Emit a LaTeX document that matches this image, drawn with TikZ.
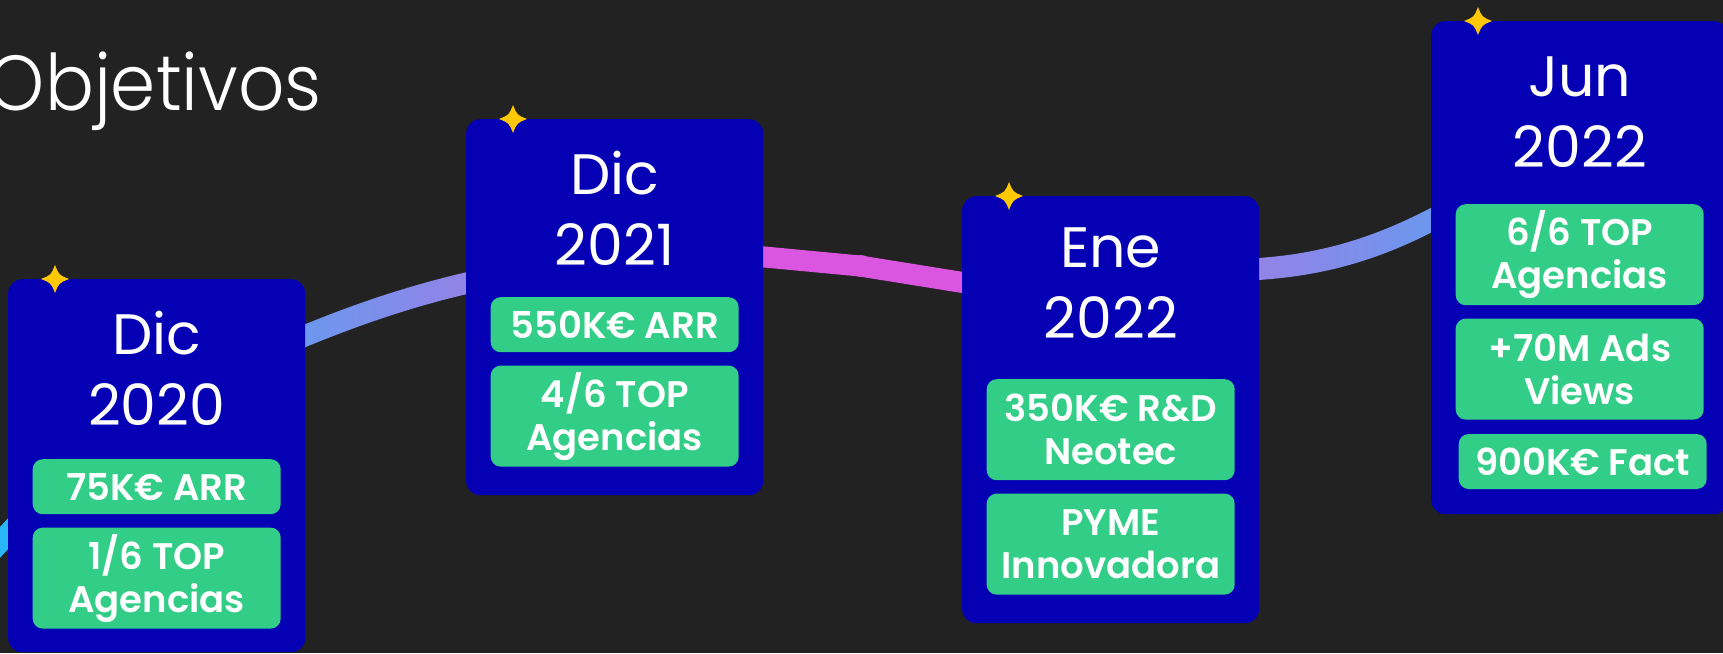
\documentclass[tikz,border=0pt]{standalone}
\usepackage{fontspec}
\setmainfont{Poppins}[BoldFont=Poppins SemiBold]
\newfontfamily\lightfont{Poppins Light}[FakeStretch=0.93]
\usetikzlibrary{positioning}
\definecolor{bgdark}{HTML}{222222}
\definecolor{cardblue}{HTML}{0500B4}
\definecolor{taggreen}{HTML}{32CD87}
\definecolor{staryellow}{HTML}{FFC800}
\definecolor{linecyan}{HTML}{29B6F6}
\definecolor{lineblue}{HTML}{6A98EE}
\definecolor{lineviolet}{HTML}{9482E6}
\definecolor{linemagenta}{HTML}{DA56E0}

\begin{document}
\begin{tikzpicture}[x=1pt,y=-1pt,node distance=13pt,
  card/.style={fill=cardblue,rounded corners=14pt,minimum width=297pt,anchor=north west,inner sep=0pt,name=#1},
  head/.style={text=white,align=center,anchor=north,inner sep=0pt,font=\fontsize{57}{71}\selectfont},
  tag/.style={fill=taggreen,rounded corners=10pt,minimum width=248pt,text=white,align=center,inner sep=0pt,font=\bfseries\fontsize{37}{43}\selectfont},
  sparkle/.pic={\fill[staryellow] (0,-14) .. controls (4,-4) .. (14,0) .. controls (4,4) .. (0,14) .. controls (-4,4) .. (-14,0) .. controls (-4,-4) .. cycle;}]
  \useasboundingbox (0,0) rectangle (1723,653);
  \fill[bgdark] (0,0) rectangle (1723,653);
  \node [text=white,anchor=base east,inner sep=0pt,font=\lightfont\fontsize{78}{78}\selectfont] (title) at (322,110) {Objetivos};
  % line behind the cards
  \draw [line width=21pt,linecyan] (-20,564) -- (30,510);
  \shade [left color=lineblue,right color=lineviolet] (296,328) .. controls (356,303) and (413,284) .. (476,270) -- (476,292) .. controls (413,306) and (356,326) .. (296,351) -- cycle;
  \draw [line width=21pt,linemagenta,line join=round] (754,256) -- (860,266) -- (972,284);
  \fill [linemagenta] (861,266) circle (11pt);
  \shade [left color=lineviolet,right color=lineblue] (1250,258.5) .. controls (1317,255) and (1374,239) .. (1441,202.5) -- (1441,227.5) .. controls (1374,263) and (1317,277) .. (1250,280.5) -- cycle;
  % cards
  \node [card=c1,minimum height=373pt] at (8,279) {};
  \node [card=c2,minimum height=376pt] at (466,119) {};
  \node [card=c3,minimum height=427pt] at (962,196) {};
  \node [card=c4,minimum height=493pt] at (1431,21) {};
  \foreach \c in {c1,c2,c3,c4}
    \pic at ([xshift=47pt]\c.north west) {sparkle};
  \node [head] (h1) at ([yshift=-32pt]c1.north) {Dic\\2020};
  \node [head] (h2) at ([yshift=-32pt]c2.north) {Dic\\2021};
  \node [head] (h3) at ([yshift=-32pt]c3.north) {Ene\\2022};
  \node [head] (h4) at ([yshift=-36pt]c4.north) {Jun\\2022};
  \node [tag,anchor=north,minimum height=55pt] (t11) at ([yshift=-180pt]c1.north) {75K€ ARR};
  \node [tag,minimum height=101pt,below=of t11] (t12) {1/6 TOP\\Agencias};
  \node [tag,anchor=north,minimum height=55pt] (t21) at ([yshift=-178pt]c2.north) {550K€ ARR};
  \node [tag,minimum height=101pt,below=of t21] (t22) {4/6 TOP\\Agencias};
  \node [tag,anchor=north,minimum height=101pt] (t31) at ([yshift=-183pt]c3.north) {350K€ R\&D\\Neotec};
  \node [tag,minimum height=101pt,below=of t31] (t32) {PYME\\Innovadora};
  \node [tag,anchor=north,minimum height=101pt] (t41) at ([yshift=-183pt]c4.north) {6/6 TOP\\Agencias};
  \node [tag,minimum height=101pt,below=of t41] (t42) {+70M Ads\\Views};
  \node [tag,minimum height=55pt,below=14pt of t42,xshift=3pt] (t43) {900K€ Fact};
\end{tikzpicture}
\end{document}
